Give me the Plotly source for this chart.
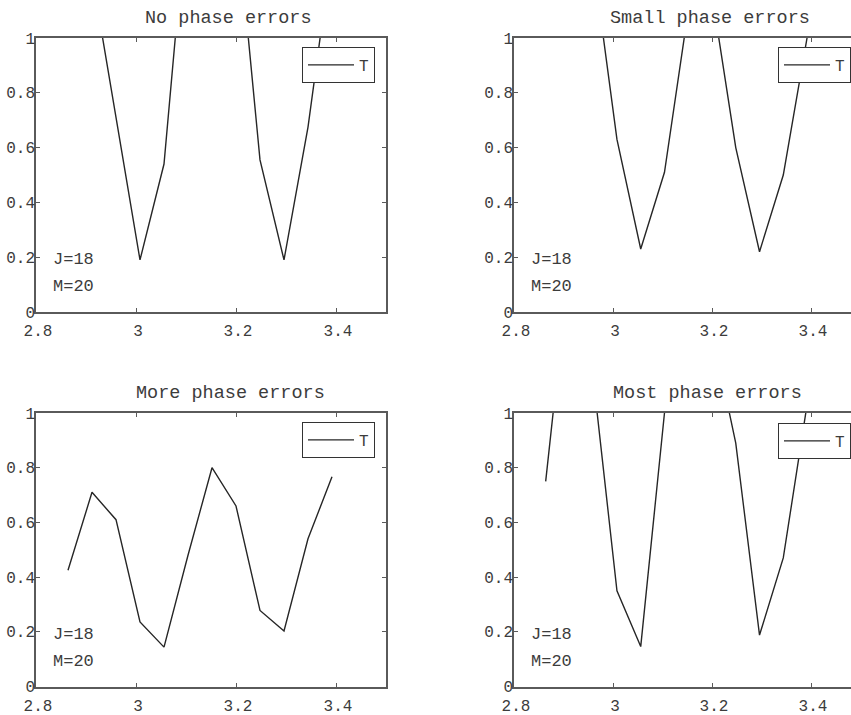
import plotly.graph_objects as go

# ---------------- data ----------------
x_vals = [2.864, 2.912, 2.960, 3.008, 3.056, 3.104, 3.152, 3.200, 3.248, 3.296, 3.344, 3.392]

t_no_errors = [1.45, 1.23, 0.71, 0.19, 0.54, 1.52, 1.60, 1.47, 0.555, 0.19, 0.675, 1.32]
t_small_errors = [1.30, 1.50, 1.28, 0.63, 0.23, 0.51, 1.10, 1.16, 0.60, 0.22, 0.50, 1.00]
t_more_errors = [0.425, 0.71, 0.61, 0.236, 0.144, 0.48, 0.80, 0.66, 0.278, 0.203, 0.54, 0.767]
t_most_errors = [0.75, 1.55, 1.13, 0.35, 0.146, 1.00, 1.40, 1.30, 0.89, 0.188, 0.47, 1.03]

titles = ["No phase errors", "Small phase errors", "More phase errors", "Most phase errors"]
series_name = "T"
notes = ["J=18", "M=20"]
note_y = [0.19, 0.092]

x_tickvals = [2.8, 3.0, 3.2, 3.4]
x_ticktext = ["2.8", "3", "3.2", "3.4"]
y_tickvals = [0, 0.2, 0.4, 0.6, 0.8, 1.0]
y_ticktext = ["0", "0.2", "0.4", "0.6", "0.8", "1"]

# ---------------- layout constants ----------------
W, H = 851, 715
FONT = "Liberation Mono, Courier New, monospace"
AX_COL = "#5a5a5a"
TXT_COL = "#3c3c3c"
LINE_COL = "#262626"

left_dom = [36 / W, 386 / W]
right_dom = [514 / W, 1.0]
top_dom = [1 - 312 / H, 1 - 38 / H]
bot_dom = [1 - 686.5 / H, 1 - 413 / H]
left_range = [2.8, 3.5]
right_range = [2.8, 2.8 + (W - 514) / 495.0]

panels = [
    dict(y=t_no_errors, xd=left_dom, yd=top_dom, xr=left_range, right=False,
         tx=228, ty=18.5, lx=302, ly=47),
    dict(y=t_small_errors, xd=right_dom, yd=top_dom, xr=right_range, right=True,
         tx=710, ty=18.5, lx=778, ly=47),
    dict(y=t_more_errors, xd=left_dom, yd=bot_dom, xr=left_range, right=False,
         tx=230, ty=393, lx=302, ly=422),
    dict(y=t_most_errors, xd=right_dom, yd=bot_dom, xr=right_range, right=True,
         tx=707, ty=393, lx=778, ly=423),
]

fig = go.Figure()
layout = dict(
    width=W, height=H,
    margin=dict(l=0, r=0, t=0, b=0, pad=0, autoexpand=False),
    paper_bgcolor="white", plot_bgcolor="white",
    font=dict(family=FONT, size=16, color=TXT_COL),
    showlegend=True,
    annotations=[],
)

for i, p in enumerate(panels):
    n = i + 1
    xa = "x" if n == 1 else f"x{n}"
    ya = "y" if n == 1 else f"y{n}"
    lg = "legend" if n == 1 else f"legend{n}"
    fig.add_trace(go.Scatter(
        x=x_vals, y=p["y"], mode="lines", name=series_name,
        line=dict(color=LINE_COL, width=1.4),
        xaxis=xa, yaxis=ya, legend=lg, showlegend=True,
    ))
    xkey = "xaxis" if n == 1 else f"xaxis{n}"
    ykey = "yaxis" if n == 1 else f"yaxis{n}"
    layout[xkey] = dict(
        domain=p["xd"], range=p["xr"], anchor=ya,
        tickvals=x_tickvals, ticktext=x_ticktext,
        ticks="inside", ticklen=4, tickwidth=1, tickcolor=AX_COL,
        showline=True, linecolor=AX_COL, linewidth=1.6, mirror="ticks",
        showgrid=False, zeroline=False, fixedrange=True,
        tickfont=dict(family=FONT, size=16, color=TXT_COL),
        ticklabelstandoff=3, ticklabelshift=2,
    )
    layout[ykey] = dict(
        domain=p["yd"], range=[0, 1], anchor=xa,
        tickvals=y_tickvals, ticktext=y_ticktext,
        ticks="inside", ticklen=4, tickwidth=1, tickcolor=AX_COL,
        showline=True, linecolor=AX_COL, linewidth=1.6,
        mirror=False if p["right"] else "ticks",
        showgrid=False, zeroline=False, fixedrange=True,
        tickfont=dict(family=FONT, size=16, color=TXT_COL),
        ticklabelstandoff=-4,
    )
    layout[lg] = dict(
        x=p["lx"] / W, y=1 - p["ly"] / H, xanchor="left", yanchor="top",
        xref="paper", yref="paper",
        bgcolor="white", bordercolor="#333333", borderwidth=1,
        font=dict(family=FONT, size=16, color=TXT_COL),
        itemwidth=46, tracegroupgap=0,
    )
    layout["annotations"].append(dict(
        text=titles[i], x=p["tx"] / W, y=1 - p["ty"] / H,
        xref="paper", yref="paper", xanchor="center", yanchor="middle",
        showarrow=False, font=dict(family=FONT, size=18.5, color=TXT_COL),
    ))
    for t, yy in zip(notes, note_y):
        layout["annotations"].append(dict(
            text=t, x=2.83, y=yy, xref=xa, yref=ya,
            xanchor="left", yanchor="middle", showarrow=False,
            font=dict(family=FONT, size=17, color=TXT_COL),
        ))

fig.update_layout(**layout)
fig.write_html("out.html")
